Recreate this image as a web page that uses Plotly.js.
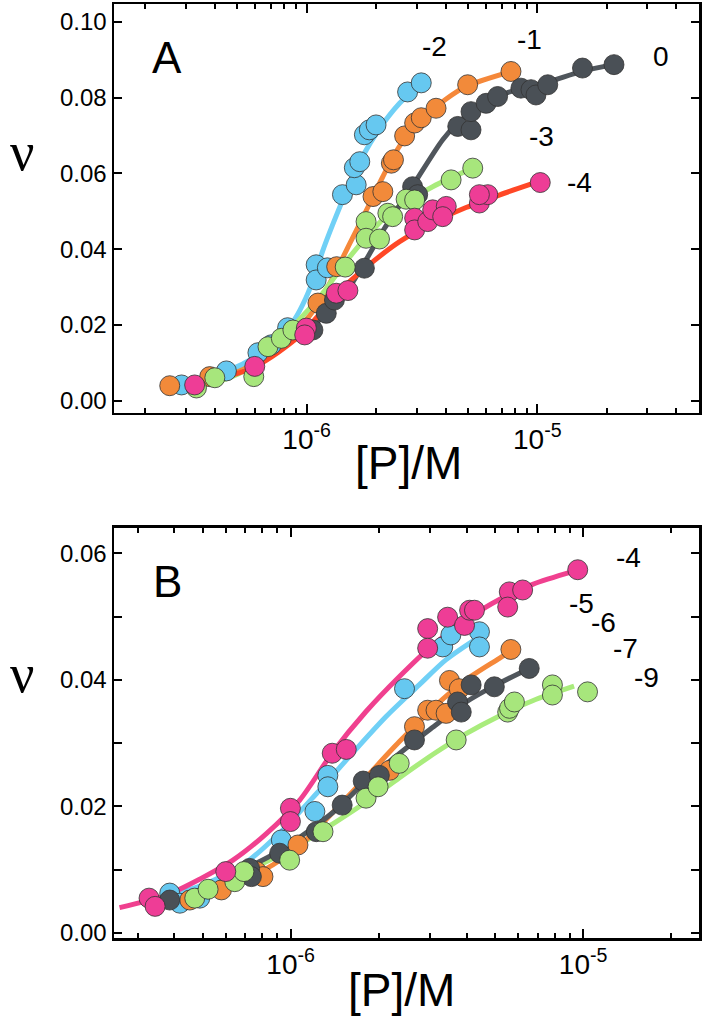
<!DOCTYPE html>
<html><head><meta charset="utf-8">
<script src="https://cdn.plot.ly/plotly-3.0.1.min.js"></script>
<style>html,body{margin:0;padding:0;background:#fff}#chart{width:704px;height:1023px}</style>
</head><body><div id="chart"></div>
<script>
// ---------- Panel A : data points ----------
const A0_x = [1.065e-6,1.217e-6,1.32e-6,1.78e-6,2.88e-6,3.03e-6,4.52e-6,5.16e-6,5.16e-6,6.00e-6,6.73e-6,8.49e-6,9.39e-6,9.87e-6,1.11e-5,1.57e-5,2.15e-5];
const A0_y = [0.0187,0.0231,0.0266,0.0350,0.0565,0.0544,0.0724,0.0715,0.0763,0.0785,0.0803,0.0825,0.0821,0.0807,0.0834,0.0878,0.0887];
const A1_x = [2.55e-7,3.80e-7,1.12e-6,1.35e-6,1.94e-6,2.14e-6,2.33e-6,2.38e-6,2.66e-6,2.94e-6,3.14e-6,3.64e-6,4.99e-6,7.69e-6];
const A1_y = [0.0040,0.0064,0.0258,0.0354,0.0539,0.0552,0.0627,0.0636,0.0699,0.0733,0.0747,0.0772,0.0834,0.0869];
const A2_x = [2.87e-7,4.49e-7,6.15e-7,7.03e-7,8.27e-7,1.10e-6,1.10e-6,1.23e-6,1.43e-6,1.64e-6,1.61e-6,1.70e-6,1.78e-6,1.87e-6,2.00e-6,2.74e-6,3.14e-6];
const A2_y = [0.0042,0.0079,0.0127,0.0148,0.0193,0.0359,0.0319,0.0351,0.0544,0.0570,0.0615,0.0631,0.0702,0.0715,0.0728,0.0815,0.0839];
const A3_x = [3.33e-7,4.00e-7,5.90e-7,6.80e-7,7.77e-7,8.72e-7,1.47e-6,1.81e-6,1.81e-6,2.07e-6,2.25e-6,2.36e-6,2.70e-6,2.94e-6,4.23e-6,5.25e-6];
const A3_y = [0.0034,0.0061,0.0064,0.0143,0.0165,0.0187,0.0353,0.0473,0.0429,0.0427,0.0495,0.0486,0.0532,0.0530,0.0583,0.0614];
const A4_x = [3.27e-7,5.96e-7,9.97e-7,9.81e-7,1.345e-6,1.51e-6,2.94e-6,2.94e-6,3.35e-6,3.52e-6,4.03e-6,3.89e-6,5.61e-6,6.10e-6,5.61e-6,1.03e-5];
const A4_y = [0.0042,0.0091,0.0192,0.0174,0.0284,0.0291,0.0482,0.0451,0.0473,0.0504,0.0513,0.0486,0.0522,0.0544,0.0544,0.0576];
// ---------- Panel A : fitted curves ----------
const A0c_x = [1.0e-6,1.14e-6,1.46e-6,1.81e-6,2.18e-6,2.84e-6,3.89e-6,4.52e-6,5.61e-6,7.33e-6,8.93e-6,1.13e-5,1.57e-5,2.15e-5];
const A0c_y = [0.0180,0.0214,0.0280,0.0372,0.0456,0.0561,0.0689,0.0733,0.0777,0.0812,0.0826,0.0842,0.0870,0.0887];
const A1c_x = [2.55e-7,3.80e-7,5.66e-7,8.19e-7,1.031e-6,1.221e-6,1.582e-6,1.875e-6,2.134e-6,2.529e-6,3.087e-6,4.04e-6,4.93e-6,7.71e-6];
const A1c_y = [0.0040,0.0063,0.0095,0.0165,0.0225,0.0295,0.0430,0.0520,0.0590,0.0672,0.0738,0.0797,0.0830,0.0869];
const A2c_x = [2.87e-7,4.51e-7,6.14e-7,7.64e-7,8.87e-7,9.90e-7,1.083e-6,1.173e-6,1.297e-6,1.476e-6,1.730e-6,2.070e-6,2.529e-6,3.148e-6];
const A2c_y = [0.0042,0.0078,0.0120,0.0165,0.0215,0.0270,0.0330,0.0395,0.0465,0.0548,0.0640,0.0718,0.0785,0.0839];
const A3c_x = [3.12e-7,4.64e-7,6.58e-7,9.02e-7,1.14e-6,1.585e-6,2.29e-6,3.52e-6,5.25e-6];
const A3c_y = [0.0034,0.0061,0.0113,0.0206,0.0274,0.0390,0.0495,0.0565,0.0614];
const A4c_x = [3.27e-7,5.96e-7,9.33e-7,1.39e-6,1.875e-6,2.53e-6,3.52e-6,4.91e-6,6.84e-6,9.51e-6];
const A4c_y = [0.0040,0.0090,0.0172,0.0290,0.0360,0.0420,0.0470,0.0510,0.0543,0.0573];

// ---------- Panel B : data points ----------
const B4_x = [3.28e-7,3.44e-7,6.00e-7,9.98e-7,9.98e-7,1.387e-6,1.549e-6,2.94e-6,2.94e-6,3.44e-6,3.93e-6,4.09e-6,4.25e-6,5.59e-6,5.52e-6,6.21e-6,9.58e-6];
const B4_y = [0.0055,0.0042,0.0097,0.0197,0.0176,0.0284,0.0290,0.0481,0.0450,0.0499,0.0486,0.0510,0.0510,0.0539,0.0515,0.0542,0.0574];
const B5_x = [3.86e-7,4.18e-7,4.89e-7,9.29e-7,1.21e-6,1.34e-6,1.34e-6,2.45e-6,3.31e-6,3.53e-6,4.42e-6,4.42e-6];
const B5_y = [0.0063,0.0047,0.0055,0.0147,0.0192,0.0249,0.0231,0.0386,0.0452,0.0471,0.0476,0.0452];
const B6_x = [4.52e-7,5.80e-7,7.64e-7,8.04e-7,1.059e-6,2.18e-6,2.65e-6,2.94e-6,3.14e-6,3.40e-6,3.49e-6,3.77e-6,5.66e-6];
const B6_y = [0.0052,0.0068,0.0097,0.0089,0.0139,0.0257,0.0326,0.0352,0.0352,0.0347,0.0399,0.0386,0.0448];
const B7_x = [3.86e-7,7.24e-7,7.34e-7,9.17e-7,1.224e-6,1.50e-6,1.77e-6,2.01e-6,2.65e-6,3.72e-6,3.83e-6,4.14e-6,4.97e-6,6.54e-6];
const B7_y = [0.0052,0.0102,0.0089,0.0126,0.0160,0.0202,0.0240,0.0249,0.0305,0.0365,0.0349,0.0392,0.0389,0.0418];
const B9_x = [4.70e-7,5.22e-7,6.44e-7,6.92e-7,9.92e-7,1.29e-6,1.81e-6,1.99e-6,2.35e-6,3.68e-6,5.52e-6,5.60e-6,5.82e-6,7.85e-6,7.85e-6,1.035e-5];
const B9_y = [0.0055,0.0069,0.0081,0.0097,0.0115,0.0160,0.0213,0.0231,0.0268,0.0305,0.0349,0.0355,0.0365,0.0392,0.0376,0.0381];
// ---------- Panel B : fitted curves ----------
const B4c_x = [2.60e-7,3.77e-7,4.89e-7,6.35e-7,8.26e-7,1.074e-6,1.394e-6,1.81e-6,2.35e-6,3.06e-6,3.98e-6,5.17e-6,6.72e-6,9.19e-6];
const B4c_y = [0.0040,0.0060,0.0085,0.0115,0.0157,0.0210,0.0286,0.0350,0.0405,0.0455,0.0495,0.0527,0.0551,0.0571];
const B5c_x = [3.72e-7,4.89e-7,6.88e-7,9.17e-7,1.224e-6,1.633e-6,2.12e-6,2.75e-6,3.40e-6,4.48e-6];
const B5c_y = [0.0058,0.0074,0.0108,0.0158,0.0220,0.0285,0.0342,0.0392,0.0432,0.0470];
const B6c_x = [4.27e-7,6.19e-7,8.02e-7,1.074e-6,1.39e-6,1.81e-6,2.35e-6,3.06e-6,3.98e-6,5.17e-6,5.66e-6];
const B6c_y = [0.0052,0.0074,0.0098,0.0138,0.0190,0.0246,0.0302,0.0355,0.0400,0.0434,0.0446];
const B7c_x = [3.86e-7,6.70e-7,9.17e-7,1.39e-6,1.81e-6,2.69e-6,3.06e-6,3.98e-6,5.04e-6,6.54e-6];
const B7c_y = [0.0055,0.0098,0.0130,0.0190,0.0240,0.0305,0.0325,0.0365,0.0392,0.0418];
const B9c_x = [3.72e-7,5.30e-7,7.24e-7,1.074e-6,1.39e-6,1.81e-6,2.35e-6,3.06e-6,3.98e-6,5.17e-6,6.72e-6,9.31e-6];
const B9c_y = [0.0058,0.0075,0.0100,0.0140,0.0172,0.0207,0.0245,0.0282,0.0315,0.0343,0.0367,0.0390];

// ---------- labels / ticks ----------
const xTickVals = [1e-6,1e-5];
const xTickText = ['10<sup>-6</sup>','10<sup>-5</sup>'];
const aMinor = [2e-7,3e-7,4e-7,5e-7,6e-7,7e-7,8e-7,9e-7,2e-6,3e-6,4e-6,5e-6,6e-6,7e-6,8e-6,9e-6,2e-5,3e-5,4e-5];
const bMinor = [3e-7,4e-7,5e-7,6e-7,7e-7,8e-7,9e-7,2e-6,3e-6,4e-6,5e-6,6e-6,7e-6,8e-6,9e-6,2e-5];
const aYTicks = [0,0.02,0.04,0.06,0.08,0.10];
const aYText = ['0.00','0.02','0.04','0.06','0.08','0.10'];
const bYTicks = [0,0.02,0.04,0.06];
const bYText = ['0.00','0.02','0.04','0.06'];
const bYMinor = [0.01,0.03,0.05];
const aLabels = ['-2','-1','0','-3','-4'];
const aLabX = [-5.446,-5.035,-4.463,-4.983,-4.818];
const aLabY = [0.0934,0.0953,0.0908,0.0697,0.0575];
const bLabels = ['-4','-5','-6','-7','-9'];
const bLabX = [-4.846,-5.007,-4.932,-4.857,-4.785];
const bLabY = [0.0594,0.0521,0.0490,0.0450,0.0403];

const C = {
  gray:'#4a5056', grayL:'#50565c',
  orange:'#f28a3a', orangeL:'#f5883a',
  blue:'#66c8f0', blueL:'#70d0f6',
  green:'#a7e67c', greenL:'#a9ec7c',
  pink:'#ee3d96', redL:'#ff4726', pinkL:'#f0408f'
};
const FONT = 'Liberation Sans, Arial, sans-serif';

function line(x,y,color,xa,ya){
  return {x:x,y:y,xaxis:xa,yaxis:ya,type:'scatter',mode:'lines',
    line:{color:color,width:5,shape:'spline',smoothing:0.8},hoverinfo:'skip',showlegend:false};
}
function pts(x,y,color,xa,ya){
  return {x:x,y:y,xaxis:xa,yaxis:ya,type:'scatter',mode:'markers',
    marker:{size:20,color:color,line:{color:'#333',width:0.8}},showlegend:false};
}

const data = [
  line(A1c_x,A1c_y,C.orangeL,'x','y'),
  line(A2c_x,A2c_y,C.blueL,'x','y'),
  line(A3c_x,A3c_y,C.greenL,'x','y'),
  line(A0c_x,A0c_y,C.grayL,'x','y'),
  line(A4c_x,A4c_y,C.redL,'x','y'),
  pts(A2_x,A2_y,C.blue,'x','y'),
  pts(A1_x,A1_y,C.orange,'x','y'),
  pts(A0_x,A0_y,C.gray,'x','y'),
  pts(A3_x,A3_y,C.green,'x','y'),
  pts(A4_x,A4_y,C.pink,'x','y'),

  line(B9c_x,B9c_y,C.greenL,'x2','y2'),
  line(B6c_x,B6c_y,C.orangeL,'x2','y2'),
  line(B7c_x,B7c_y,C.grayL,'x2','y2'),
  line(B5c_x,B5c_y,C.blueL,'x2','y2'),
  line(B4c_x,B4c_y,C.pinkL,'x2','y2'),
  pts(B5_x,B5_y,C.blue,'x2','y2'),
  pts(B6_x,B6_y,C.orange,'x2','y2'),
  pts(B7_x,B7_y,C.gray,'x2','y2'),
  pts(B9_x,B9_y,C.green,'x2','y2'),
  pts(B4_x,B4_y,C.pink,'x2','y2')
];

function xaxis(range,minor,anchor){
  return {type:'log',range:range,anchor:anchor,domain:[0,1],
    tickmode:'array',tickvals:xTickVals,ticktext:xTickText,
    ticks:'inside',ticklen:9,tickwidth:2,tickcolor:'#000',
    minor:{tickmode:'array',tickvals:minor,ticks:'inside',ticklen:5,tickwidth:2,tickcolor:'#000',showgrid:false},
    showline:true,linewidth:2.5,linecolor:'#000',mirror:'allticks',
    showgrid:false,zeroline:false,
    tickfont:{family:FONT,size:28,color:'#000'}};
}
function yaxis(range,domain,tv,tt,minor,anchor){
  const ax = {range:range,domain:domain,anchor:anchor,
    tickmode:'array',tickvals:tv,ticktext:tt,
    ticks:'inside',ticklen:8,tickwidth:2,tickcolor:'#000',
    showline:true,linewidth:2.5,linecolor:'#000',mirror:'allticks',
    showgrid:false,zeroline:false,
    tickfont:{family:FONT,size:24,color:'#000'}};
  if(minor) ax.minor = {tickmode:'array',tickvals:minor,ticks:'inside',ticklen:8,tickwidth:2,tickcolor:'#000',showgrid:false};
  return ax;
}

const ann = [];
for(let i=0;i<aLabels.length;i++) ann.push({x:aLabX[i],y:aLabY[i],xref:'x',yref:'y',text:aLabels[i],showarrow:false,xanchor:'center',yanchor:'middle',font:{family:FONT,size:28,color:'#000'}});
for(let i=0;i<bLabels.length;i++) ann.push({x:bLabX[i],y:bLabY[i],xref:'x2',yref:'y2',text:bLabels[i],showarrow:false,xanchor:'center',yanchor:'middle',font:{family:FONT,size:28,color:'#000'}});
function pa(x,y,t,size,fam){
  return {xref:'paper',yref:'paper',x:x,y:y,text:t,showarrow:false,xanchor:'center',yanchor:'middle',font:{family:fam||FONT,size:size,color:'#000'}};
}
ann.push(pa(0.0906,0.9422,'A',44));
ann.push(pa(0.0923,0.3812,'B',44));
ann.push(pa(0.5026,0.5086,'[P]/M',46));
ann.push(pa(0.4923,-0.0557,'[P]/M',46));
ann.push(pa(-0.157,0.8415,'ν',54,'Liberation Serif, DejaVu Serif, serif'));
ann.push(pa(-0.157,0.2827,'ν',54,'Liberation Serif, DejaVu Serif, serif'));

const layout = {
  width:704,height:1023,
  margin:{l:114,r:5,t:4,b:85},
  paper_bgcolor:'#fff',plot_bgcolor:'#fff',
  showlegend:false,
  xaxis:xaxis([-6.835,-4.299],aMinor,'y'),
  yaxis:yaxis([-0.0032,0.1047],[0.5621,1],aYTicks,aYText,null,'x'),
  xaxis2:xaxis([-6.604,-4.604],bMinor,'y2'),
  yaxis2:yaxis([-0.0008,0.0640],[0,0.439],bYTicks,bYText,bYMinor,'x2'),
  annotations:ann
};
Plotly.newPlot('chart',data,layout,{staticPlot:true,displayModeBar:false});
</script></body></html>
